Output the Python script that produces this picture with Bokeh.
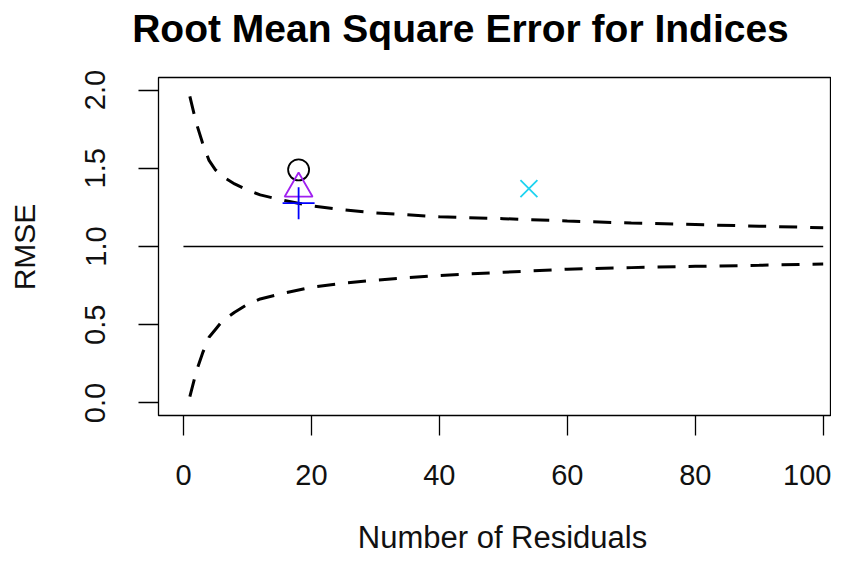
import math
from bokeh.plotting import figure
from bokeh.models import Range1d, FixedTicker, Label, PrintfTickFormatter, ColumnDataSource
from bokeh.embed import file_html
from bokeh.resources import INLINE

# ---- data ----
bound_n = [1, 2, 3, 4, 5, 6, 8, 10, 12, 15, 20, 25, 30, 40, 50, 60, 70, 80, 90, 100]
upper_bound = [1.96, 1.79, 1.66, 1.55, 1.49, 1.45, 1.40, 1.36, 1.33, 1.30, 1.26, 1.235,
               1.215, 1.19, 1.178, 1.163, 1.15, 1.14, 1.13, 1.12]
lower_bound = [0.04, 0.20, 0.32, 0.42, 0.47, 0.52, 0.58, 0.63, 0.665, 0.695, 0.74, 0.765,
               0.785, 0.815, 0.835, 0.855, 0.865, 0.873, 0.88, 0.888]
ref_n = [0, 100]
ref_rmse = [1.0, 1.0]

index_n = [18, 18, 18, 54]
index_rmse = [1.49, 1.37, 1.277, 1.37]
index_marker = ["circle", "triangle", "cross", "x"]
index_color = ["#000000", "#A020F0", "#0000FF", "#1FD3F0"]
index_size = [21, 28, 32, 24]

x_ticks = [0, 20, 40, 60, 80, 100]
y_ticks = [0.0, 0.5, 1.0, 1.5, 2.0]

FONT = "Liberation Sans"
W, H = 831, 553

p = figure(width=W, height=H, output_backend="svg", toolbar_location=None,
           x_range=Range1d(-3.9, 101.14), y_range=Range1d(-0.08, 2.08),
           min_border_left=158, min_border_right=1, min_border_top=77, min_border_bottom=138,
           background_fill_color="white", border_fill_color="white")
p.grid.visible = False
p.outline_line_color = "black"
p.outline_line_width = 1.3

for ax in (p.xaxis[0], p.yaxis[0]):
    ax.axis_line_color = None
    ax.major_tick_line_color = "black"
    ax.major_tick_line_width = 1.3
    ax.major_tick_out = 20
    ax.major_tick_in = 0
    ax.minor_tick_line_color = None
    ax.major_label_text_font = FONT
    ax.major_label_text_font_size = "29px"
    ax.major_label_text_color = "#111111"

p.xaxis[0].ticker = FixedTicker(ticks=x_ticks)
p.xaxis[0].major_label_standoff = 29
p.yaxis[0].ticker = FixedTicker(ticks=y_ticks)
p.yaxis[0].formatter = PrintfTickFormatter(format="%.1f")
p.yaxis[0].major_label_orientation = "vertical"
p.yaxis[0].major_label_standoff = 33

# reference line and bounds
p.line(ref_n, ref_rmse, line_color="black", line_width=1.5)
p.line(bound_n, upper_bound, line_color="black", line_width=3, line_dash="18 13")
p.line(bound_n, lower_bound, line_color="black", line_width=3, line_dash="18 13")

# index points
src = ColumnDataSource(dict(x=index_n, y=index_rmse, m=index_marker, c=index_color, s=index_size))
p.scatter("x", "y", marker="m", size="s", line_color="c", fill_color=None, line_width=1.8, source=src)

# texts placed in side panels (not clipped to the frame)
p.add_layout(Label(x=302, y=49, x_units="screen", y_units="screen",
                   text="Root Mean Square Error for Indices",
                   text_align="center", text_baseline="alphabetic",
                   text_font=FONT, text_font_size="39px", text_font_style="bold",
                   text_color="black"), "above")
p.add_layout(Label(x=344, y=-15, x_units="screen", y_units="screen",
                   text="Number of Residuals",
                   text_align="center", text_baseline="alphabetic",
                   text_font=FONT, text_font_size="31px", text_color="#111111"), "below")
p.add_layout(Label(x=-25, y=168.5, x_units="screen", y_units="screen",
                   text="RMSE", angle=math.pi / 2,
                   text_align="center", text_baseline="alphabetic",
                   text_font=FONT, text_font_size="30px", text_color="#111111"), "left")

open("out.html", "w").write(file_html(p, INLINE))
